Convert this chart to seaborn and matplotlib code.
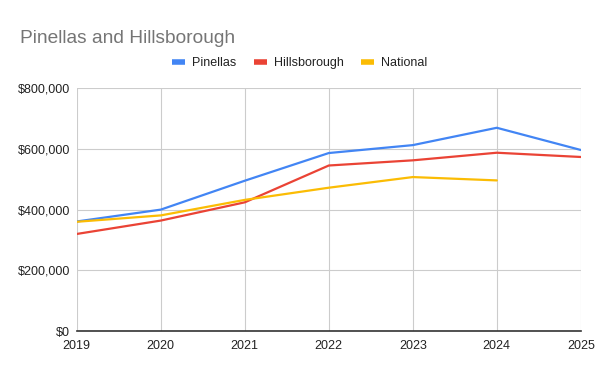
import numpy as np
import pandas as pd
import seaborn as sns
import matplotlib.pyplot as plt
from matplotlib.ticker import FuncFormatter

# values
years = [2019, 2020, 2021, 2022, 2023, 2024, 2025]
pinellas = [361000, 400000, 495000, 586000, 612000, 669000, 596000]
hillsborough = [320000, 364000, 424000, 545000, 562000, 587000, 573000]
national = [360000, 381000, 432000, 472000, 507000, 496000, np.nan]

series_names = ["Pinellas", "Hillsborough", "National"]
colors = ["#4285F4", "#EA4335", "#FBBC04"]

data = pd.DataFrame({
	"Year": years * 3,
	"Value": pinellas + hillsborough + national,
	"Series": [s for s in series_names for _ in years],
})

sns.set_style("white")
plt.rcParams['font.family'] = ['Liberation Sans', 'DejaVu Sans']

fig = plt.figure(figsize=(6, 3.71), dpi=100)
ax = fig.add_axes([0.128, 0.107, 0.840, 0.656])

sns.lineplot(data=data, x="Year", y="Value", hue="Series", hue_order=series_names,
	palette=colors, linewidth=1.6, ax=ax, legend=False)

ax.set_xlim(2019, 2025)
ax.set_ylim(0, 800000)
ax.set_xticks(years)
ax.set_yticks(range(0, 800001, 200000))
ax.yaxis.set_major_formatter(FuncFormatter(lambda v, p: "${:,.0f}".format(v)))
ax.grid(True, color="#cccccc", linewidth=0.8)
ax.set_axisbelow(True)
for side in ["top", "right", "left"]:
	ax.spines[side].set_visible(False)
ax.spines["bottom"].set_color("#333333")
ax.spines["bottom"].set_linewidth(1.2)
ax.tick_params(axis="both", length=0, labelsize=9, colors="#222222")
ax.tick_params(axis="x", pad=6)
ax.tick_params(axis="y", pad=5)
ax.set_xlabel("")
ax.set_ylabel("")

# title and legend like Google Sheets
fig.text(0.033, 0.897, "Pinellas and Hillsborough", fontsize=13.8, color="#757575", va="center")
handles = [plt.Line2D([0], [0], color=c, linewidth=4, solid_capstyle="butt") for c in colors]
fig.legend(handles, series_names, loc="center", bbox_to_anchor=(0.5, 0.83), ncol=3,
	frameon=False, fontsize=9, handlelength=1.0, handletextpad=0.6, columnspacing=1.4,
	labelcolor="#222222")

plt.savefig("out.png", dpi=100)
